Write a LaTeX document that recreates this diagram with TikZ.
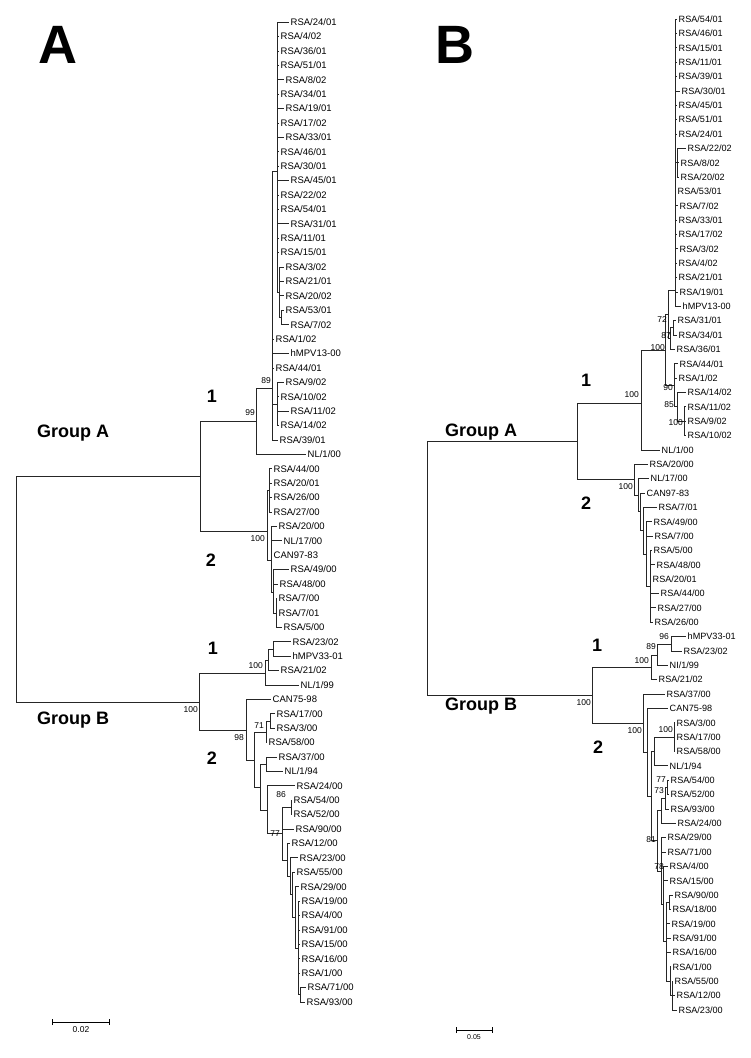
\documentclass[tikz,border=0pt]{standalone}
\usepackage{fontspec}
\setmainfont{Liberation Sans}
\usetikzlibrary{arrows.meta,positioning}
\tikzset{
  tip/.style={font=\fontsize{9.5}{10}\selectfont, anchor=west, inner sep=1.5pt, text height=6.8pt, text depth=0pt},
  tipr/.style={tip, font=\fontsize{9.1}{10}\selectfont},
  br/.style={line width=.6pt, draw=black!85},
  boot/.style={font=\fontsize{8.5}{9}\selectfont, anchor=east, inner sep=0pt},
  clade/.style={font=\bfseries\fontsize{18}{18}\selectfont, inner sep=0pt},
  grp/.style={font=\bfseries\fontsize{18}{18}\selectfont, inner sep=0pt, anchor=base west},
  panel/.style={font=\bfseries\fontsize{54}{54}\selectfont, inner sep=0pt},
  sbar/.style={line width=.6pt, {Bar[width=6pt]}-{Bar[width=6pt]}},
}

\begin{document}
\begin{tikzpicture}[x=1pt,y=-1pt]
  \useasboundingbox (0,0) rectangle (750,1058);
  % panel A: tips
  \foreach \r/\x/\lab in {0/291/{RSA/24/01},1/281/{RSA/4/02},2/281/{RSA/36/01},3/281/{RSA/51/01},
      4/286/{RSA/8/02},5/281/{RSA/34/01},6/286/{RSA/19/01},7/281/{RSA/17/02},8/286/{RSA/33/01},
      9/281/{RSA/46/01},10/281/{RSA/30/01},11/291/{RSA/45/01},12/281/{RSA/22/02},13/281/{RSA/54/01},
      14/291/{RSA/31/01},15/281/{RSA/11/01},16/281/{RSA/15/01},17/286/{RSA/3/02},18/286/{RSA/21/01},
      19/286/{RSA/20/02},20/286/{RSA/53/01},21/291/{RSA/7/02},22/276/{RSA/1/02},23/291/{hMPV13-00},
      24/276/{RSA/44/01},25/286/{RSA/9/02},26/281/{RSA/10/02},27/291/{RSA/11/02},28/281/{RSA/14/02},
      29/280/{RSA/39/01},30/308/{NL/1/00},31/274/{RSA/44/00},32/274/{RSA/20/01},33/274/{RSA/26/00},
      34/274/{RSA/27/00},35/279/{RSA/20/00},36/284/{NL/17/00},37/274/{CAN97-83},38/291/{RSA/49/00},
      39/280/{RSA/48/00},40/279/{RSA/7/00},41/279/{RSA/7/01},42/284/{RSA/5/00},43/293/{RSA/23/02},
      44/293/{hMPV33-01},45/281/{RSA/21/02},46/301/{NL/1/99},47/273/{CAN75-98},48/277/{RSA/17/00},
      49/277/{RSA/3/00},50/269/{RSA/58/00},51/279/{RSA/37/00},52/285/{NL/1/94},53/297/{RSA/24/00},
      54/294/{RSA/54/00},55/294/{RSA/52/00},56/296/{RSA/90/00},57/292/{RSA/12/00},58/300/{RSA/23/00},
      59/297/{RSA/55/00},60/301/{RSA/29/00},61/302/{RSA/19/00},62/302/{RSA/4/00},63/302/{RSA/91/00},
      64/302/{RSA/15/00},65/302/{RSA/16/00},66/302/{RSA/1/00},67/308/{RSA/71/00},68/307/{RSA/93/00}}
    \node[tip] (la\r) at ({\x-2},{22+14.41*\r}) {\lab};

  % panel A: inner nodes
  \coordinate (aTop) at (277,171);   \coordinate (aSub) at (279,292);  \coordinate (a53) at (281,317.4);
  \coordinate (a9) at (277,404);     \coordinate (a89) at (272,388);   \coordinate (a99) at (256,421);
  \coordinate (aA2a) at (269,490);   \coordinate (aA2d) at (276,613);  \coordinate (aA2c) at (273,592);
  \coordinate (aA2b) at (271,560);   \coordinate (aA2) at (267,531);   \coordinate (aGA) at (200,476);
  \coordinate (a23) at (273,649);    \coordinate (aX) at (268,660);    \coordinate (aB1) at (265,673);
  \coordinate (a17) at (270,721);    \coordinate (a71) at (266,732);   \coordinate (aNL94) at (266,764);
  \coordinate (a86) at (291,807);    \coordinate (a71b) at (300,994.7);\coordinate (aR5) at (298,948);
  \coordinate (aR4) at (295,917);    \coordinate (aR3) at (292,894);   \coordinate (aR2) at (290,876);
  \coordinate (aR1) at (287,860);    \coordinate (a77) at (282,833);   \coordinate (aB2d) at (267,810);
  \coordinate (aB2c) at (260,787);   \coordinate (aB2a) at (254,760);  \coordinate (aB2) at (246,730);
  \coordinate (aB) at (199,702);     \coordinate (aRoot) at (16,589);

  \foreach \i in {0,...,16} \draw[br] (aTop) |- (la\i);
  \foreach \i in {25,...,28} \draw[br] (a9) |- (la\i);
  \foreach \i in {31,...,34} \draw[br] (aA2a) |- (la\i);
  \foreach \i in {61,...,66} \draw[br] (aR5) |- (la\i);
  \foreach \p/\c in {aTop/aSub,aSub/la17,aSub/la18,aSub/la19,aSub/a53,a53/la20,a53/la21,
      a89/aTop,a89/la22,a89/la23,a89/la24,a89/a9,a89/la29,a99/a89,a99/la30,
      aA2b/la35,aA2b/la36,aA2b/la37,aA2b/aA2c,aA2c/la38,aA2c/la39,aA2c/aA2d,
      aA2d/la40,aA2d/la41,aA2d/la42,aA2/aA2a,aA2/aA2b,aGA/a99,aGA/aA2,
      a23/la43,a23/la44,aX/a23,aX/la45,aB1/aX,aB1/la46,
      a17/la48,a17/la49,a71/a17,a71/la50,aNL94/la51,aNL94/la52,a86/la54,a86/la55,
      a71b/la67,a71b/la68,aR5/a71b,aR4/la60,aR4/aR5,aR3/la59,aR3/aR4,aR2/la58,aR2/aR3,
      aR1/la57,aR1/aR2,a77/a86,a77/la56,a77/aR1,aB2d/la53,aB2d/a77,aB2c/aNL94,aB2c/aB2d,
      aB2a/a71,aB2a/aB2c,aB2/la47,aB2/aB2a,aB/aB1,aB/aB2,aRoot/aGA,aRoot/aB}
    \draw[br] (\p) |- (\c);

  % panel A: support values
  \node[boot] (sa99) at (255,413) {99};
  \node[boot] (sa89) at (271,381) {89};
  \node[boot] (saA2) at (265,539) {100};
  \node[boot] (saB) at (198,710) {100};
  \node[boot] (saB1) at (263,666) {100};
  \node[boot] (sa98) at (244,738) {98};
  \node[boot] (sa71) at (264,726) {71};
  \node[boot] (sa86) at (286,795) {86};
  \node[boot] (sa77) at (280,834) {77};

  % panel A: labels
  \node[panel] (pA) at (58,45) {A};
  \node[clade] (ca1) at (212,396) {1};
  \node[clade] (ca2) at (211,560) {2};
  \node[clade] (cb1) at (213,648) {1};
  \node[clade] (cb2) at (212,758) {2};
  \node[grp] (gA) at (37,437) {Group A};
  \node[grp] (gB) at (37,724) {Group B};
  \coordinate (sa1) at (52,1022); \coordinate (sa2) at (110,1022);
  \draw[sbar] (sa1) -- (sa2);
  \node[boot, anchor=north] (sal) at (81,1026) {0.02};

  % panel B: tips
  \foreach \r/\x/\lab in {0/679/{RSA/54/01},1/679/{RSA/46/01},2/679/{RSA/15/01},3/679/{RSA/11/01},
      4/679/{RSA/39/01},5/682/{RSA/30/01},6/679/{RSA/45/01},7/679/{RSA/51/01},8/679/{RSA/24/01},
      9/688/{RSA/22/02},10/681/{RSA/8/02},11/681/{RSA/20/02},12/678/{RSA/53/01},13/680/{RSA/7/02},
      14/679/{RSA/33/01},15/679/{RSA/17/02},16/680/{RSA/3/02},17/679/{RSA/4/02},18/679/{RSA/21/01},
      19/680/{RSA/19/01},20/683/{hMPV13-00},21/678/{RSA/31/01},22/679/{RSA/34/01},23/677/{RSA/36/01},
      24/680/{RSA/44/01},25/679/{RSA/1/02},26/688/{RSA/14/02},27/688/{RSA/11/02},28/688/{RSA/9/02},
      29/688/{RSA/10/02},30/662/{NL/1/00},31/650/{RSA/20/00},32/651/{NL/17/00},33/647/{CAN97-83},
      34/659/{RSA/7/01},35/654/{RSA/49/00},36/655/{RSA/7/00},37/654/{RSA/5/00},38/657/{RSA/48/00},
      39/653/{RSA/20/01},40/661/{RSA/44/00},41/658/{RSA/27/00},42/655/{RSA/26/00},43/688/{hMPV33-01},
      44/684/{RSA/23/02},45/670/{NI/1/99},46/659/{RSA/21/02},47/667/{RSA/37/00},48/670/{CAN75-98},
      49/677/{RSA/3/00},50/677/{RSA/17/00},51/677/{RSA/58/00},52/670/{NL/1/94},53/671/{RSA/54/00},
      54/671/{RSA/52/00},55/671/{RSA/93/00},56/678/{RSA/24/00},57/668/{RSA/29/00},58/668/{RSA/71/00},
      59/670/{RSA/4/00},60/670/{RSA/15/00},61/675/{RSA/90/00},62/673/{RSA/18/00},63/672/{RSA/19/00},
      64/673/{RSA/91/00},65/673/{RSA/16/00},66/673/{RSA/1/00},67/675/{RSA/55/00},68/677/{RSA/12/00},
      69/679/{RSA/23/00}}
    \node[tipr] (rb\r) at ({\x-2},{19+14.36*\r}) {\lab};

  % panel B: inner nodes
  \coordinate (bP2) at (677,162.6);  \coordinate (bP1) at (675,290);   \coordinate (b31) at (673,327.7);
  \coordinate (b87) at (670,338.5);  \coordinate (b72) at (668,314);   \coordinate (bC100) at (684,421);
  \coordinate (b85) at (677,406);    \coordinate (b90) at (674,385);   \coordinate (bIn) at (665,350);
  \coordinate (bA1) at (641,403);    \coordinate (bA2f) at (650,586);  \coordinate (bA2e) at (646,554);
  \coordinate (bA2d) at (643,530);   \coordinate (bA2c) at (640,511);  \coordinate (bA2b) at (638,495);
  \coordinate (bA2) at (634,479);    \coordinate (bGA) at (577,441);   \coordinate (b96) at (671,644);
  \coordinate (b89) at (657,655);    \coordinate (bB1) at (651,667);   \coordinate (b100c) at (674,737);
  \coordinate (bNL) at (654,751);    \coordinate (b77) at (667,787);   \coordinate (b73) at (665,798);
  \coordinate (bX24) at (661,810);   \coordinate (bR6) at (672,995.5); \coordinate (bR5) at (670,981);
  \coordinate (bR4) at (669,902);    \coordinate (bR3) at (666,941);   \coordinate (b78) at (663,904);
  \coordinate (bR1) at (661,871);    \coordinate (b81) at (657,840);   \coordinate (bB2b) at (651,796);
  \coordinate (bB2a) at (647,752);   \coordinate (bB2) at (643,723);   \coordinate (bGB) at (592,695);
  \coordinate (bRoot) at (427,568);

  \foreach \i in {0,...,8,12,13,...,20} \draw[br] (bP1) |- (rb\i);
  \foreach \i in {37,...,42} \draw[br] (bA2f) |- (rb\i);
  \foreach \p/\c in {bP2/rb9,bP2/rb10,bP2/rb11,bP1/bP2,b31/rb21,b31/rb22,b87/b31,b87/rb23,
      b72/bP1,b72/b87,bC100/rb27,bC100/rb28,bC100/rb29,b85/rb26,b85/bC100,
      b90/rb24,b90/rb25,b90/b85,bIn/b72,bIn/b90,bA1/bIn,bA1/rb30,
      bA2e/rb35,bA2e/rb36,bA2e/bA2f,bA2d/rb34,bA2d/bA2e,bA2c/rb33,bA2c/bA2d,
      bA2b/rb32,bA2b/bA2c,bA2/rb31,bA2/bA2b,bGA/bA1,bGA/bA2,
      b96/rb43,b96/rb44,b89/b96,b89/rb45,bB1/b89,bB1/rb46,
      b100c/rb49,b100c/rb50,b100c/rb51,bNL/b100c,bNL/rb52,b77/rb53,b77/rb54,b73/b77,b73/rb55,
      bX24/b73,bX24/rb56,bR6/rb67,bR6/rb68,bR6/rb69,bR5/rb66,bR5/bR6,bR4/rb61,bR4/rb62,
      bR3/bR4,bR3/rb63,bR3/rb64,bR3/rb65,bR3/bR5,b78/rb59,b78/rb60,b78/bR3,
      bR1/rb57,bR1/rb58,bR1/b78,b81/bX24,b81/bR1,bB2b/bNL,bB2b/b81,bB2a/rb48,bB2a/bB2b,
      bB2/rb47,bB2/bB2a,bGB/bB1,bGB/bB2,bRoot/bGA,bRoot/bGB}
    \draw[br] (\p) |- (\c);

  % panel B: support values
  \node[boot] (sb72) at (667,320) {72};
  \node[boot] (sb87) at (671,336) {87};
  \node[boot] (sbIn) at (665,348) {100};
  \node[boot] (sbA1) at (639,395) {100};
  \node[boot] (sb90) at (673,388) {90};
  \node[boot] (sb85) at (674,405) {85};
  \node[boot] (sbC) at (683,423) {100};
  \node[boot] (sbA2) at (633,487) {100};
  \node[boot] (sb96) at (669,637) {96};
  \node[boot] (sb89) at (656,647) {89};
  \node[boot] (sbB1) at (649,661) {100};
  \node[boot] (sbGB) at (591,703) {100};
  \node[boot] (sbB2) at (642,731) {100};
  \node[boot] (sb100c) at (673,730) {100};
  \node[boot] (sb77) at (666,780) {77};
  \node[boot] (sb73) at (664,791) {73};
  \node[boot] (sb81) at (656,840) {81};
  \node[boot] (sb78) at (664,867) {78};

  % panel B: labels
  \node[panel] (pB) at (455,45) {B};
  \node[clade] (da1) at (586,380) {1};
  \node[clade] (da2) at (586,503) {2};
  \node[clade] (db1) at (597,645) {1};
  \node[clade] (db2) at (598,747) {2};
  \node[grp] (hA) at (445,436) {Group A};
  \node[grp] (hB) at (445,710) {Group B};
  \coordinate (sb1) at (456,1030); \coordinate (sb2) at (493,1030);
  \draw[sbar] (sb1) -- (sb2);
  \node[boot, anchor=north, font=\fontsize{7}{7}\selectfont] (sbl) at (474,1034) {0.05};
\end{tikzpicture}
\end{document}
